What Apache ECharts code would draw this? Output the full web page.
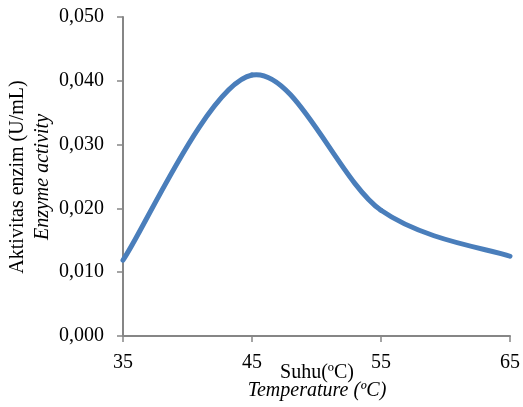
<!DOCTYPE html>
<html>
<head>
<meta charset="utf-8">
<script src="https://cdn.jsdelivr.net/npm/echarts@6/dist/echarts.min.js"></script>
<style>
  html, body { margin: 0; padding: 0; background: #fff; }
  #chart { width: 523px; height: 407px; }
</style>
</head>
<body>
<div id="chart"></div>
<script>
// temperature (ºC) and enzyme activity (U/mL)
const temperatures = [35, 45, 55, 65];
const activity = [0.0119, 0.0409, 0.0197, 0.0125];

const font = 'Liberation Serif, Times New Roman, serif';
const axisGray = '#868686';
const points = temperatures.map((t, i) => [t, activity[i]]);

const chart = echarts.init(document.getElementById('chart'));

// spreadsheet-style smoothed line: one bezier per segment,
// control arms = (next - prev) / 6, ends use the end point itself
const renderSegment = (params, api) => {
  const i = params.dataIndex;
  const n = points.length;
  if (i >= n - 1) return;
  const p = k => api.coord(points[Math.max(0, Math.min(n - 1, k))]);
  const p0 = p(i - 1), p1 = p(i), p2 = p(i + 1), p3 = p(i + 2);
  return {
    type: 'bezierCurve',
    shape: {
      x1: p1[0], y1: p1[1],
      x2: p2[0], y2: p2[1],
      cpx1: p1[0] + (p2[0] - p0[0]) / 6,
      cpy1: p1[1] + (p2[1] - p0[1]) / 6,
      cpx2: p2[0] - (p3[0] - p1[0]) / 6,
      cpy2: p2[1] - (p3[1] - p1[1]) / 6
    },
    style: { stroke: '#4A7EBB', lineWidth: 5, fill: 'none', lineCap: 'round' }
  };
};

const option = {
  animation: false,
  grid: { left: 123, right: 11, top: 17, bottom: 71 },
  xAxis: {
    type: 'value',
    min: 35,
    max: 65,
    interval: 10,
    axisLine: { lineStyle: { color: axisGray, width: 2 } },
    axisTick: { show: true, length: 6, inside: false, lineStyle: { color: axisGray, width: 1.5 } },
    splitLine: { show: false },
    axisLabel: { color: '#000', fontFamily: font, fontSize: 20, margin: 17 }
  },
  yAxis: {
    type: 'value',
    min: 0,
    max: 0.05,
    interval: 0.01,
    axisLine: { show: true, lineStyle: { color: axisGray, width: 2 } },
    axisTick: { show: true, length: 6, lineStyle: { color: axisGray, width: 1.5 } },
    splitLine: { show: false },
    axisLabel: {
      color: '#000', fontFamily: font, fontSize: 20, margin: 19,
      formatter: v => v.toFixed(3).replace('.', ',')
    }
  },
  graphic: [
    {
      type: 'text', x: 18, y: 177, rotation: Math.PI / 2,
      style: { text: 'Aktivitas enzim (U/mL)', font: '20px ' + font, fill: '#000', align: 'center', verticalAlign: 'middle' }
    },
    {
      type: 'text', x: 43, y: 177, rotation: Math.PI / 2,
      style: { text: 'Enzyme activity', font: 'italic 20px ' + font, fill: '#000', align: 'center', verticalAlign: 'middle' }
    },
    {
      type: 'text', x: 317, y: 373,
      style: { text: 'Suhu(ºC)', font: '20px ' + font, fill: '#000', align: 'center', verticalAlign: 'middle' }
    },
    {
      type: 'text', x: 317, y: 391,
      style: { text: 'Temperature (ºC)', font: 'italic 20px ' + font, fill: '#000', align: 'center', verticalAlign: 'middle' }
    }
  ],
  series: [
    {
      type: 'custom',
      data: points,
      encode: { x: 0, y: 1 },
      renderItem: renderSegment
    }
  ]
};

chart.setOption(option);
</script>
</body>
</html>
